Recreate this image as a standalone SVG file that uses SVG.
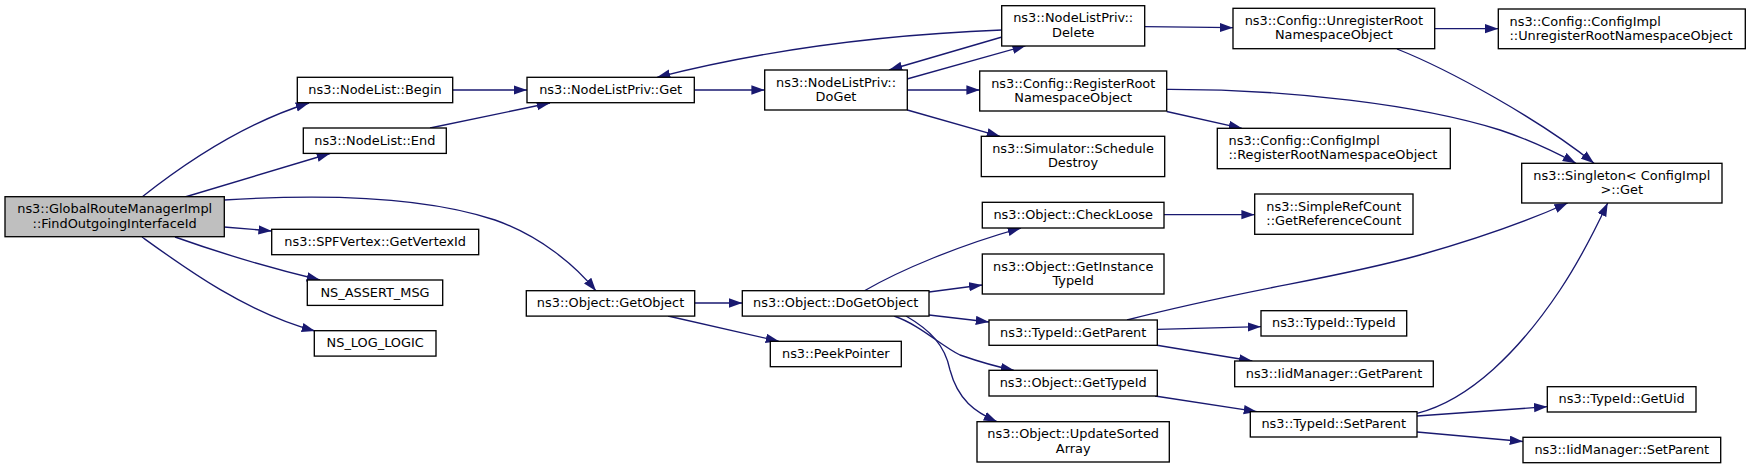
<svg xmlns="http://www.w3.org/2000/svg" width="1751" height="469" viewBox="0 0 1751 469">
<style>
.n rect{fill:#fff;stroke:#000;stroke-width:1.33}
.n text{font-family:"DejaVu Sans",sans-serif;font-size:12.9px;fill:#000;text-anchor:middle}
.n text.l{text-anchor:start}
#main rect{fill:#bfbfbf}
.e path{fill:none;stroke:#191970;stroke-width:1.33;marker-end:url(#arr)}
</style>
<defs>
<marker id="arr" markerUnits="userSpaceOnUse" markerWidth="14" markerHeight="10" refX="13.3" refY="4.67" orient="auto">
<path d="M0,0 L13.3,4.67 L0,9.33 z" fill="#191970"/>
</marker>
</defs>
<rect width="1751" height="469" fill="#fff"/>
<g id="edges" class="e">
<path d="M142,197 C185,163 245,123 309,103"/>
<path d="M185,197 L330,153.5"/>
<path d="M224,200 C320,194 420,195 495,220 C540,236 575,265 596,291"/>
<path d="M224,227 L271.7,231"/>
<path d="M175,237 C220,253 270,268 320,280"/>
<path d="M142,237 C185,268 245,312 315,331"/>
<path d="M453,90 L527,90"/>
<path d="M430,128 L550,103"/>
<path d="M694.3,90 L764.7,90"/>
<path d="M907,79 L1025.7,45.7"/>
<path d="M1002,37 L889,70"/>
<path d="M1002,30 C900,34 780,46 657,77.3"/>
<path d="M907.3,90 L979.7,90"/>
<path d="M907.3,110 L1000,136.3"/>
<path d="M1144.7,26.7 L1233,27.7"/>
<path d="M1434.7,28.7 L1498.3,28.7"/>
<path d="M1397,49 C1450,70 1540,120 1594,163.3"/>
<path d="M1166.7,89.3 C1290,89 1420,105 1500,130 C1530,140 1555,152 1576,163.3"/>
<path d="M1166.7,111.5 L1242,128.3"/>
<path d="M694.7,303 L742.3,303"/>
<path d="M668,316 L779,341.3"/>
<path d="M864,291 C900,270 960,245 1021,228"/>
<path d="M929,292 L982.3,285"/>
<path d="M929,315 L989,322"/>
<path d="M894,316 C920,325 940,345 960,355 C980,362 998,367 1014,370.3"/>
<path d="M906,316 C930,330 945,345 950,370 C958,400 975,412 997,421.7"/>
<path d="M1164,214.7 L1254.7,214.7"/>
<path d="M1127,320 C1250,288 1330,280 1420,255 C1480,238 1530,220 1567.7,203"/>
<path d="M1157.3,329.3 L1261,326.7"/>
<path d="M1155.5,345 L1252.3,361"/>
<path d="M1155,396 L1257,411.7"/>
<path d="M1417,413.3 C1470,400 1520,350 1560,290 C1580,260 1595,230 1607.7,203"/>
<path d="M1417,416 L1547.3,406.7"/>
<path d="M1417,432 L1523,441.5"/>
</g>
<g id="main" class="n"><rect x="5" y="196.7" width="219.3" height="40"/><text x="114.7" y="213.4">ns3::GlobalRouteManagerImpl</text><text x="114.7" y="227.7">::FindOutgoingInterfaceId</text></g>
<g id="begin" class="n"><rect x="297.3" y="77.3" width="155.4" height="25.4"/><text x="375" y="94">ns3::NodeList::Begin</text></g>
<g id="end" class="n"><rect x="303.3" y="128" width="143" height="25.4"/><text x="374.8" y="144.7">ns3::NodeList::End</text></g>
<g id="getvertexid" class="n"><rect x="271.7" y="229.3" width="207" height="25.4"/><text x="375.2" y="246">ns3::SPFVertex::GetVertexId</text></g>
<g id="assert" class="n"><rect x="307.3" y="280" width="135.4" height="25.4"/><text x="375" y="296.7">NS_ASSERT_MSG</text></g>
<g id="loglogic" class="n"><rect x="314.3" y="330.7" width="121.7" height="25.4"/><text x="375.2" y="347.4">NS_LOG_LOGIC</text></g>
<g id="privget" class="n"><rect x="527" y="77.3" width="167.3" height="25.4"/><text x="610.7" y="94">ns3::NodeListPriv::Get</text></g>
<g id="doget" class="n"><rect x="764.7" y="70" width="142.6" height="40"/><text x="836" y="86.7">ns3::NodeListPriv::</text><text x="836" y="101">DoGet</text></g>
<g id="getobject" class="n"><rect x="526.3" y="290.7" width="168.4" height="25.4"/><text x="610.5" y="307.4">ns3::Object::GetObject</text></g>
<g id="dogetobject" class="n"><rect x="742.3" y="290.7" width="186.7" height="25.4"/><text x="835.7" y="307.4">ns3::Object::DoGetObject</text></g>
<g id="peekpointer" class="n"><rect x="770.3" y="341.3" width="131" height="25.4"/><text x="835.8" y="358">ns3::PeekPointer</text></g>
<g id="delete" class="n"><rect x="1001.7" y="5.7" width="143" height="40.3"/><text x="1073.2" y="22.4">ns3::NodeListPriv::</text><text x="1073.2" y="36.7">Delete</text></g>
<g id="registerroot" class="n"><rect x="979.7" y="71" width="187" height="40"/><text x="1073.2" y="87.7">ns3::Config::RegisterRoot</text><text x="1073.2" y="102">NamespaceObject</text></g>
<g id="scheduledestroy" class="n"><rect x="981.3" y="136.3" width="183.4" height="40.3"/><text x="1073" y="153">ns3::Simulator::Schedule</text><text x="1073" y="167.3">Destroy</text></g>
<g id="checkloose" class="n"><rect x="982.3" y="202.3" width="181.7" height="25.7"/><text x="1073.2" y="219">ns3::Object::CheckLoose</text></g>
<g id="getinstancetypeid" class="n"><rect x="982.3" y="254" width="181.7" height="40"/><text x="1073.2" y="270.7">ns3::Object::GetInstance</text><text x="1073.2" y="285">TypeId</text></g>
<g id="typeidgetparent" class="n"><rect x="989" y="320" width="168.3" height="25.3"/><text x="1073.2" y="336.7">ns3::TypeId::GetParent</text></g>
<g id="gettypeid" class="n"><rect x="989" y="370.3" width="168.3" height="25.7"/><text x="1073.2" y="387">ns3::Object::GetTypeId</text></g>
<g id="updatesorted" class="n"><rect x="977" y="421.7" width="192.3" height="40.3"/><text x="1073.2" y="438.4">ns3::Object::UpdateSorted</text><text x="1073.2" y="452.7">Array</text></g>
<g id="unregisterroot" class="n"><rect x="1233" y="8.3" width="201.7" height="40.4"/><text x="1333.8" y="25">ns3::Config::UnregisterRoot</text><text x="1333.8" y="39.3">NamespaceObject</text></g>
<g id="implunregister" class="n"><rect x="1498.3" y="9" width="247" height="39.7"/><text class="l" x="1509.5" y="25.7">ns3::Config::ConfigImpl</text><text class="l" x="1509.5" y="40">::UnregisterRootNamespaceObject</text></g>
<g id="implregister" class="n"><rect x="1217.3" y="128.3" width="233" height="40.4"/><text class="l" x="1228.5" y="145">ns3::Config::ConfigImpl</text><text class="l" x="1228.5" y="159.3">::RegisterRootNamespaceObject</text></g>
<g id="simplerefcount" class="n"><rect x="1254.7" y="194" width="158.3" height="40.3"/><text x="1333.8" y="210.7">ns3::SimpleRefCount</text><text x="1333.8" y="225">::GetReferenceCount</text></g>
<g id="typeidtypeid" class="n"><rect x="1261" y="310.7" width="145.7" height="25.3"/><text x="1333.8" y="327.4">ns3::TypeId::TypeId</text></g>
<g id="iidgetparent" class="n"><rect x="1234.7" y="361" width="198.6" height="25.7"/><text x="1334" y="377.7">ns3::IidManager::GetParent</text></g>
<g id="setparent" class="n"><rect x="1250.3" y="411.7" width="166.7" height="25.3"/><text x="1333.7" y="428.4">ns3::TypeId::SetParent</text></g>
<g id="singleton" class="n"><rect x="1521.7" y="163.3" width="200.3" height="39.7"/><text x="1621.8" y="180">ns3::Singleton&lt; ConfigImpl</text><text x="1621.8" y="194.3">&gt;::Get</text></g>
<g id="getuid" class="n"><rect x="1547.3" y="386.7" width="148.7" height="25.3"/><text x="1621.7" y="403.4">ns3::TypeId::GetUid</text></g>
<g id="iidsetparent" class="n"><rect x="1523" y="437.3" width="197.7" height="25.4"/><text x="1621.8" y="454">ns3::IidManager::SetParent</text></g>
</svg>
